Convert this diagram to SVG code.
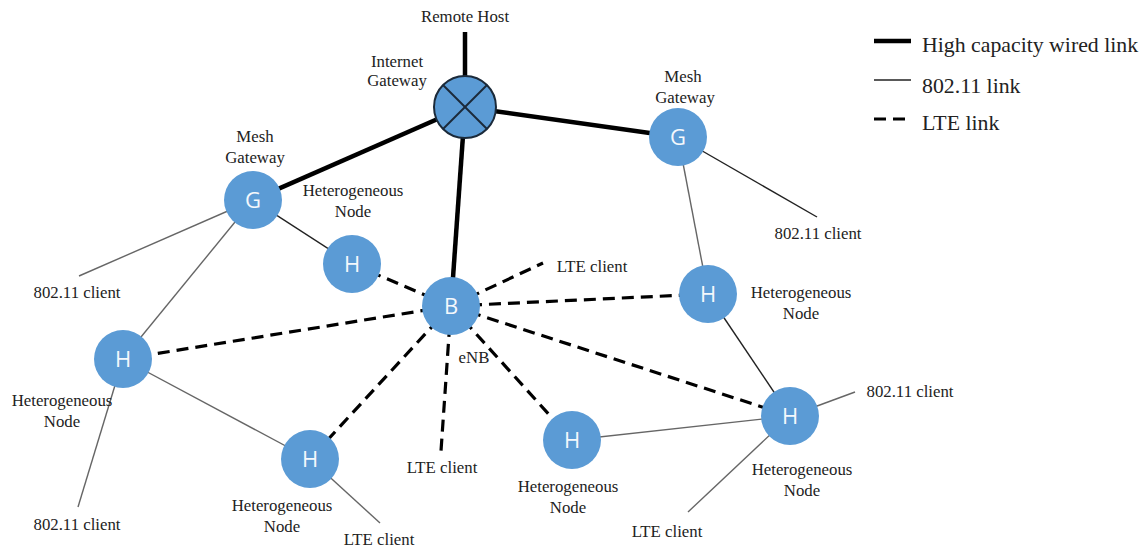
<svg xmlns="http://www.w3.org/2000/svg" width="1148" height="551" viewBox="0 0 1148 551">
<style>
.lbl{font-family:"Liberation Serif","Times New Roman",serif;font-size:16.8px;fill:#222;text-anchor:middle}
.leg{font-family:"Liberation Serif","Times New Roman",serif;font-size:21.8px;fill:#222}
.nd{fill:#5b9bd5}
.ltr{font-family:"Open Sans","Liberation Sans",sans-serif;font-size:22px;fill:#f4f8fc;text-anchor:middle}
.thick{stroke:#000;stroke-width:4.5;fill:none}
.thin{stroke:#666;stroke-width:1.4;fill:none}
.thind{stroke:#222;stroke-width:1.4;fill:none}
.dash{stroke:#000;stroke-width:3.2;stroke-dasharray:12 7;fill:none}
</style>
<rect width="1148" height="551" fill="#fff"/>
<g id="connectors">
<line class="thick" x1="465" y1="32" x2="465" y2="107"/>
<line class="thick" x1="465" y1="107" x2="253" y2="200"/>
<line class="thick" x1="465" y1="107" x2="678" y2="137"/>
<line class="thick" x1="465" y1="107" x2="451" y2="306"/>
<line class="thin" x1="253" y1="200" x2="79" y2="276"/>
<line class="thin" x1="253" y1="200" x2="123" y2="359"/>
<line class="thind" x1="253" y1="200" x2="352" y2="264"/>
<line class="thind" x1="678" y1="137" x2="817" y2="217"/>
<line class="thin" x1="678" y1="137" x2="708" y2="294"/>
<line class="thind" x1="708" y1="294" x2="790" y2="416"/>
<line class="thin" x1="790" y1="416" x2="855" y2="392"/>
<line class="thin" x1="790" y1="416" x2="688" y2="512"/>
<line class="thin" x1="572" y1="440" x2="790" y2="416"/>
<line class="thin" x1="123" y1="359" x2="78" y2="507"/>
<line class="thin" x1="123" y1="359" x2="310" y2="459"/>
<line class="thin" x1="310" y1="459" x2="380" y2="523"/>
<line class="dash" x1="352" y1="264" x2="451" y2="306"/>
<line class="dash" x1="451" y1="306" x2="123" y2="359"/>
<line class="dash" x1="451" y1="306" x2="310" y2="459"/>
<line class="dash" x1="451" y1="306" x2="441" y2="451"/>
<line class="dash" x1="451" y1="306" x2="572" y2="440"/>
<line class="dash" x1="451" y1="306" x2="790" y2="416"/>
<line class="dash" x1="451" y1="306" x2="708" y2="294"/>
<line class="dash" x1="451" y1="306" x2="543" y2="263"/>
</g>
<g id="remote-host"><text class="lbl" x="465" y="22">Remote Host</text></g>
<g id="internet-gateway">
<circle cx="465" cy="107" r="31" fill="#5b9bd5" stroke="#1b2a3a" stroke-width="2"/>
<line x1="443" y1="85" x2="487" y2="129" stroke="#1b2a3a" stroke-width="2"/>
<line x1="487" y1="85" x2="443" y2="129" stroke="#1b2a3a" stroke-width="2"/>
<text class="lbl" x="397" y="67">Internet</text>
<text class="lbl" x="397" y="86">Gateway</text>
</g>
<g id="mesh-gateway-left">
<circle class="nd" cx="253" cy="200" r="29"/>
<text class="ltr" x="253" y="208">G</text>
<text class="lbl" x="255" y="142">Mesh</text>
<text class="lbl" x="255" y="163">Gateway</text>
</g>
<g id="mesh-gateway-right">
<circle class="nd" cx="678" cy="137" r="29"/>
<text class="ltr" x="678" y="145">G</text>
<text class="lbl" x="683" y="82">Mesh</text>
<text class="lbl" x="685" y="103">Gateway</text>
</g>
<g id="enb">
<circle class="nd" cx="451" cy="306" r="29"/>
<text class="ltr" x="451" y="314">B</text>
<text class="lbl" x="474" y="363">eNB</text>
</g>
<g id="het-node-1">
<circle class="nd" cx="352" cy="264" r="29"/>
<text class="ltr" x="352" y="272">H</text>
<text class="lbl" x="353" y="196">Heterogeneous</text>
<text class="lbl" x="353" y="217">Node</text>
</g>
<g id="het-node-left">
<circle class="nd" cx="123" cy="359" r="29"/>
<text class="ltr" x="123" y="367">H</text>
<text class="lbl" x="62" y="406">Heterogeneous</text>
<text class="lbl" x="62" y="427">Node</text>
</g>
<g id="het-node-bottom-left">
<circle class="nd" cx="310" cy="459" r="29"/>
<text class="ltr" x="310" y="467">H</text>
<text class="lbl" x="282" y="511">Heterogeneous</text>
<text class="lbl" x="282" y="532">Node</text>
</g>
<g id="het-node-bottom-center">
<circle class="nd" cx="572" cy="440" r="29"/>
<text class="ltr" x="572" y="448">H</text>
<text class="lbl" x="568" y="492">Heterogeneous</text>
<text class="lbl" x="568" y="513">Node</text>
</g>
<g id="het-node-right">
<circle class="nd" cx="708" cy="294" r="29"/>
<text class="ltr" x="708" y="302">H</text>
<text class="lbl" x="801" y="298">Heterogeneous</text>
<text class="lbl" x="801" y="319">Node</text>
</g>
<g id="het-node-bottom-right">
<circle class="nd" cx="790" cy="416" r="29"/>
<text class="ltr" x="790" y="424">H</text>
<text class="lbl" x="802" y="475">Heterogeneous</text>
<text class="lbl" x="802" y="496">Node</text>
</g>
<g id="client-80211-left-top"><text class="lbl" x="77" y="298">802.11 client</text></g>
<g id="client-80211-left-bottom"><text class="lbl" x="77" y="530">802.11 client</text></g>
<g id="client-80211-right-top"><text class="lbl" x="818" y="239">802.11 client</text></g>
<g id="client-80211-right-bottom"><text class="lbl" x="910" y="397">802.11 client</text></g>
<g id="client-lte-top"><text class="lbl" x="592" y="272">LTE client</text></g>
<g id="client-lte-center"><text class="lbl" x="442" y="473">LTE client</text></g>
<g id="client-lte-bottom-left"><text class="lbl" x="379" y="545">LTE client</text></g>
<g id="client-lte-bottom-right"><text class="lbl" x="667" y="537">LTE client</text></g>
<g id="legend">
<line x1="874" y1="41" x2="911" y2="41" stroke="#000" stroke-width="4.5"/>
<text class="leg" x="922" y="52">High capacity wired link</text>
<line x1="874" y1="80" x2="911" y2="80" stroke="#222" stroke-width="1.5"/>
<text class="leg" x="922" y="93">802.11 link</text>
<line x1="874" y1="119" x2="911" y2="119" stroke="#000" stroke-width="3.2" stroke-dasharray="12 7"/>
<text class="leg" x="922" y="130">LTE link</text>
</g>
</svg>
